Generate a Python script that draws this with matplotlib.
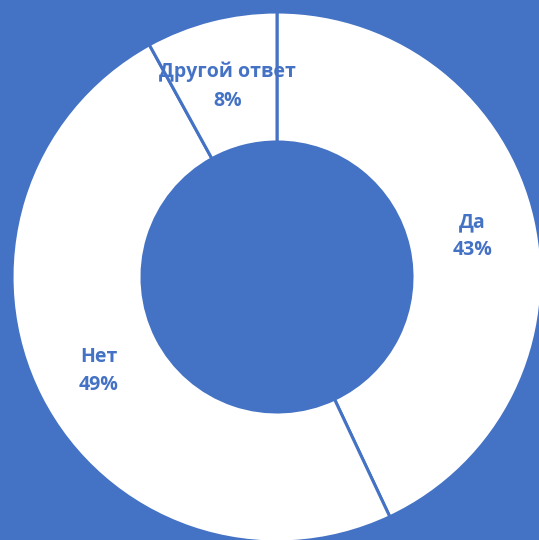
import matplotlib.pyplot as plt

# answers and shares (percent)
labels = ["Да", "Нет", "Другой ответ"]
shares = [43, 49, 8]

blue = "#4472C4"

fig = plt.figure(figsize=(5.39, 5.40), dpi=100, facecolor=blue)
ax = fig.add_axes([0, 0, 1, 1])
ax.set_facecolor(blue)

wedges, texts, autotexts = ax.pie(
    shares,
    labels=labels,
    center=(277, 263),
    radius=265,
    startangle=90,
    counterclock=False,
    colors=["white"] * len(shares),
    wedgeprops=dict(width=130, edgecolor=blue, linewidth=2.2),
    autopct=lambda p: "",
    pctdistance=0.755,
    labeldistance=None,
    frame=True,
)
ax.axis("off")
ax.set_aspect("equal")
ax.set_xlim(0, 539)
ax.set_ylim(0, 540)

# label text: category name and percentage in the middle of each ring segment
for t, lab, s in zip(autotexts, labels, shares):
    x, y = t.get_position()
    t.set_position((x, y - 3))
    t.set_text(f"{lab}\n{s}%")
    t.set_color(blue)
    t.set_fontsize(14)
    t.set_fontweight("bold")
    t.set_family(["Open Sans", "DejaVu Sans"])
    t.set_linespacing(1.55)
    t.set_ha("center")
    t.set_va("center")

fig.savefig("out.png", dpi=100, facecolor=blue)
